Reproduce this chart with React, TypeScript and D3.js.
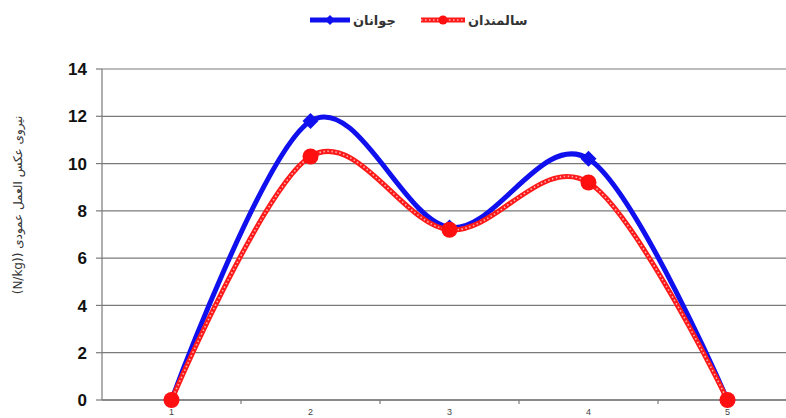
import React from "react";
import * as d3 from "d3";

const categories = ["1", "2", "3", "4", "5"];
const youngValues = [0, 11.8, 7.3, 10.2, 0];
const elderlyValues = [0, 10.3, 7.2, 9.2, 0];
const yTicks = [0, 2, 4, 6, 8, 10, 12, 14];
const youngLabel = "جوانان";
const elderlyLabel = "سالمندان";
const yTitle = "نیروی عکس العمل عمودی ((N/kg)";

const W = 786;
const H = 418;
const left = 102;
const right = 797;
const top = 69;
const bottom = 400;

export default function App() {
  const x = d3.scaleBand<string>().domain(categories).range([left, right]);
  const cx = (c: string) => (x(c) as number) + x.bandwidth() / 2;
  const y = d3.scaleLinear().domain([0, 14]).range([bottom, top]);
  const line = d3
    .line<number>()
    .x((_, i) => cx(categories[i]))
    .y((d) => y(d))
    .curve(d3.curveCardinal.tension(0));
  const youngPath = line(youngValues) || "";
  const elderlyPath = line(elderlyValues) || "";
  const boundaries = categories.slice(1).map((c) => x(c) as number);
  const diamond = (px: number, py: number, r: number) =>
    `M${px},${py - r}L${px + r},${py}L${px},${py + r}L${px - r},${py}Z`;

  return (
    <svg
      width={W}
      height={H}
      style={{ position: "absolute", left: 0, top: 0, background: "#fff" }}
    >
      <rect x={0} y={0} width={W} height={H} fill="#fff" />
      {yTicks.map((t) => (
        <line
          key={"g" + t}
          x1={left}
          x2={right}
          y1={y(t)}
          y2={y(t)}
          stroke="#7a7a7a"
          strokeWidth={1.2}
        />
      ))}
      <line x1={left} x2={left} y1={top} y2={bottom} stroke="#7a7a7a" strokeWidth={1.2} />
      {yTicks.map((t) => (
        <g key={"t" + t}>
          <line x1={left - 6} x2={left} y1={y(t)} y2={y(t)} stroke="#7a7a7a" strokeWidth={1.2} />
          <text
            x={87}
            y={y(t)}
            dy="0.36em"
            textAnchor="end"
            fontFamily="Arial, 'Liberation Sans', sans-serif"
            fontWeight="bold"
            fontSize={17}
            fill="#111"
          >
            {t}
          </text>
        </g>
      ))}
      <line x1={left} x2={right} y1={bottom} y2={bottom} stroke="#7a7a7a" strokeWidth={1.5} />
      {boundaries.map((b, i) => (
        <line key={"xb" + i} x1={b} x2={b} y1={bottom} y2={bottom + 4} stroke="#7a7a7a" strokeWidth={1.2} />
      ))}
      {categories.map((c) => (
        <text
          key={"xl" + c}
          x={cx(c)}
          y={bottom + 15}
          textAnchor="middle"
          fontFamily="'Liberation Sans Narrow', Arial, sans-serif"
          fontSize={9}
          fill="#444"
        >
          {c}
        </text>
      ))}
      <text
        transform={`translate(22,205) rotate(-90)`}
        textAnchor="middle"
        fontFamily="'DejaVu Sans', 'Noto Sans', sans-serif"
        fontSize={12}
        fill="#333"
        direction="rtl"
      >
        {yTitle}
      </text>
      <path d={youngPath} fill="none" stroke="#1010ee" strokeWidth={5} />
      {youngValues.map((v, i) => (
        <path key={"yd" + i} d={diamond(cx(categories[i]), y(v), 8)} fill="#1010ee" />
      ))}
      <path d={elderlyPath} fill="none" stroke="#ff1a1a" strokeWidth={5} />
      <path
        d={elderlyPath}
        fill="none"
        stroke="#ffb0b0"
        strokeWidth={1.6}
        strokeDasharray="1.5 2.5"
      />
      {elderlyValues.map((v, i) => (
        <circle key={"ec" + i} cx={cx(categories[i])} cy={y(v)} r={8} fill="#ff1010" />
      ))}
      <g>
        <line x1={310} x2={350} y1={20} y2={20} stroke="#1010ee" strokeWidth={5} />
        <path d={diamond(330, 20, 5)} fill="#1010ee" />
        <text
          x={353}
          y={20}
          dy="0.35em"
          textAnchor="start"
          fontFamily="'DejaVu Sans', sans-serif"
          fontSize={13}
          fontWeight="bold"
          fill="#333"
        >
          {youngLabel}
        </text>
        <line x1={421} x2={465} y1={20} y2={20} stroke="#ff1a1a" strokeWidth={5} />
        <line
          x1={421}
          x2={465}
          y1={20}
          y2={20}
          stroke="#ffb0b0"
          strokeWidth={1.6}
          strokeDasharray="1.5 2.5"
        />
        <circle cx={443} cy={20} r={4.5} fill="#ff1010" />
        <text
          x={468}
          y={20}
          dy="0.35em"
          textAnchor="start"
          fontFamily="'DejaVu Sans', sans-serif"
          fontSize={13}
          fontWeight="bold"
          fill="#333"
        >
          {elderlyLabel}
        </text>
      </g>
    </svg>
  );
}
